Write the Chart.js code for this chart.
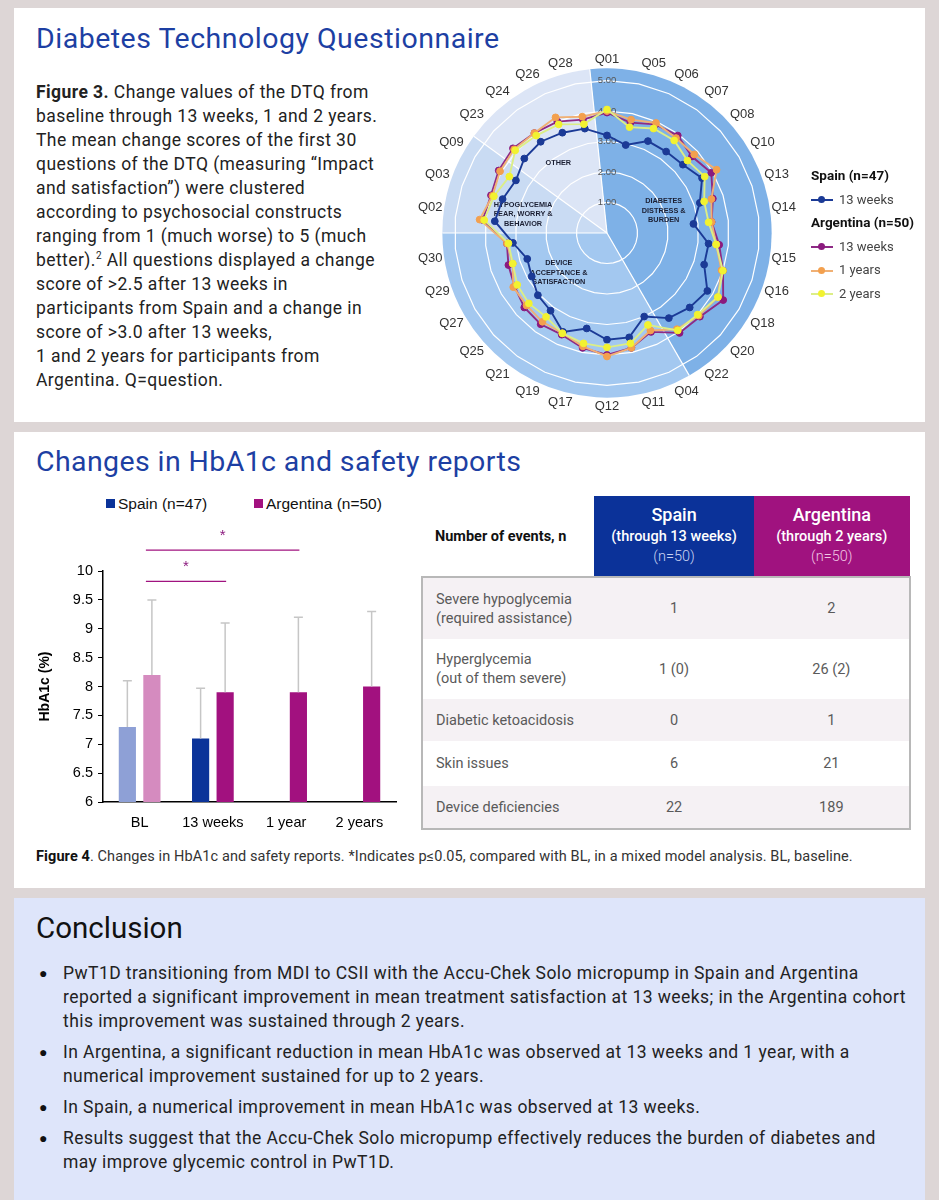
<!DOCTYPE html>
<html>
<head>
<meta charset="utf-8">
<script src="https://cdn.jsdelivr.net/npm/chart.js@4.4.1/dist/chart.umd.min.js"></script>
<style>
  html, body { margin:0; padding:0; }
  body { width:939px; height:1200px; background:#ddd6d6; position:relative; overflow:hidden; font-family:Roboto, "Liberation Sans", sans-serif; color:#222; }
  .panel { position:absolute; left:14px; width:911px; background:#fff; }
  .abs { position:absolute; }
  .title { font-size:28.5px; letter-spacing:0.5px; color:#1d3fa3; white-space:nowrap; }
  .fig3 { font-size:17.5px; letter-spacing:0.43px; line-height:24px; color:#222; white-space:nowrap; }
  .rleg { font-size:13px; color:#444; white-space:nowrap; }
  .rleg b { color:#111; font-size:13.5px; }
  .mk { display:inline-block; position:relative; width:22px; height:10px; vertical-align:middle; margin-right:6px; }
  .mk i { position:absolute; left:0; right:0; top:4px; height:2px; }
  .mk s { position:absolute; left:7px; top:1px; width:7px; height:7px; border-radius:50%; }
  .bleg { font-size:15.5px; color:#111; font-family:"Liberation Sans", Arial, sans-serif; white-space:nowrap; }
  .sq { display:inline-block; width:9px; height:9px; margin-right:3px; vertical-align:1px; }
  table.ev { border-collapse:collapse; font-size:14.5px; color:#5a5a5a; }
  table.ev td, table.ev th { padding:0; }
  table.ev th { color:#fff; font-weight:500; text-align:center; }
  .concl { font-size:17.5px; letter-spacing:0.43px; line-height:24px; color:#222; white-space:nowrap; list-style:none; }
  .concl li { margin-bottom:7px; position:relative; }
  .concl li::before { content:"●"; position:absolute; left:-24px; top:0; font-size:14px; color:#111; }
</style>
</head>
<body>

<div class="panel" style="top:8px;height:414px;"></div>
<div class="panel" style="top:432px;height:456px;"></div>
<div class="panel" style="top:898px;height:310px;background:#dee5fa;"></div>

<div class="abs title" style="left:36px;top:22px;">Diabetes Technology Questionnaire</div>
<div class="abs fig3" style="left:36px;top:80px;">
<b>Figure 3.</b> Change values of the DTQ from<br>
baseline through 13 weeks, 1 and 2 years.<br>
The mean change scores of the first 30<br>
questions of the DTQ (measuring “Impact<br>
and satisfaction”) were clustered<br>
according to psychosocial constructs<br>
ranging from 1 (much worse) to 5 (much<br>
better).<sup style="font-size:10px;line-height:0">2</sup> All questions displayed a change<br>
score of &gt;2.5 after 13 weeks in<br>
participants from Spain and a change in<br>
score of &gt;3.0 after 13 weeks,<br>
1 and 2 years for participants from<br>
Argentina. Q=question.
</div>

<canvas id="radarChart" class="abs" width="430" height="362" style="left:392px;top:53px;"></canvas>

<div class="abs rleg" style="left:811px;top:164px;line-height:23.5px;">
  <b>Spain (n=47)</b><br>
  <span class="mk"><i style="background:#1b3a96"></i><s style="background:#1b3a96"></s></span>13 weeks<br>
  <b>Argentina (n=50)</b><br>
  <span class="mk"><i style="background:#8e2a85"></i><s style="background:#8b1a7e"></s></span>13 weeks<br>
  <span class="mk"><i style="background:#f0b074"></i><s style="background:#f3a04e"></s></span>1 years<br>
  <span class="mk"><i style="background:#dcee86"></i><s style="background:#f2f230"></s></span>2 years
</div>

<div class="abs title" style="left:36px;top:445px;letter-spacing:0.4px;">Changes in HbA1c and safety reports</div>

<div class="abs bleg" style="left:106px;top:495px;"><span class="sq" style="background:#0b3399"></span>Spain (n=47)</div>
<div class="abs bleg" style="left:254px;top:495px;"><span class="sq" style="background:#a2117f"></span>Argentina (n=50)</div>

<canvas id="hba1cChart" class="abs" width="390" height="345" style="left:20px;top:490px;"></canvas>

<table class="ev abs" style="left:421px;top:496px;width:490px;">
  <colgroup><col style="width:173px"><col style="width:160px"><col style="width:157px"></colgroup>
  <tr style="height:81px;">
    <td style="color:#111;font-weight:700;font-size:14.5px;padding-left:13px;">Number of events, n</td>
    <th style="background:#0b3299;line-height:20px;"><span style="font-size:18px">Spain</span><br>(through 13 weeks)<br><span style="font-weight:300;color:#c9d2f2">(n=50)</span></th>
    <th style="background:#a0127f;line-height:20px;"><span style="font-size:18px">Argentina</span><br>(through 2 years)<br><span style="font-weight:300;color:#f0c6e4">(n=50)</span></th>
  </tr>
  <tbody id="evBody"></tbody>
</table>

<div class="abs" style="left:36px;top:848px;font-size:14.5px;letter-spacing:0.1px;color:#333;white-space:nowrap;"><b style="color:#111">Figure 4</b>. Changes in HbA1c and safety reports. *Indicates p≤0.05, compared with BL, in a mixed model analysis. BL, baseline.</div>

<div class="abs" style="left:36px;top:911px;font-size:29.5px;color:#111;">Conclusion</div>
<ul class="abs concl" style="left:63px;top:961px;margin:0;padding:0;">
  <li>PwT1D transitioning from MDI to CSII with the Accu-Chek Solo micropump in Spain and Argentina<br>reported a significant improvement in mean treatment satisfaction at 13 weeks; in the Argentina cohort<br>this improvement was sustained through 2 years.</li>
  <li>In Argentina, a significant reduction in mean HbA1c was observed at 13 weeks and 1 year, with a<br>numerical improvement sustained for up to 2 years.</li>
  <li>In Spain, a numerical improvement in mean HbA1c was observed at 13 weeks.</li>
  <li>Results suggest that the Accu-Chek Solo micropump effectively reduces the burden of diabetes and<br>may improve glycemic control in PwT1D.</li>
</ul>

<script>
// ---- DTQ radar data ----
const questions = ["Q01","Q05","Q06","Q07","Q08","Q10","Q13","Q14","Q15","Q16","Q18","Q20","Q22","Q04","Q11",
                   "Q12","Q17","Q19","Q21","Q25","Q27","Q29","Q30","Q02","Q03","Q09","Q23","Q24","Q26","Q28"];
const spain13w = [3.2,2.95,3.3,3.3,3.35,3.6,3.2,2.85,3.35,3.35,3.8,3.65,3.45,3.0,3.5,
                  3.5,3.2,3.55,3.15,3.05,2.85,2.75,3.1,3.7,3.6,3.45,3.65,3.7,3.6,3.5];
const arg13w   = [3.95,3.7,3.9,3.95,3.75,3.95,3.65,3.45,3.7,4.0,4.4,4.1,4.05,3.55,3.85,
                  4.0,3.85,3.65,3.7,3.65,3.5,3.4,3.3,4.1,4.0,4.1,4.15,4.05,4.0,3.8];
const arg1y    = [4.0,3.8,3.95,3.85,3.85,4.15,3.6,3.45,3.6,3.95,4.2,4.05,3.9,3.5,3.85,
                  4.05,3.8,3.6,3.6,3.55,3.55,3.25,3.3,4.2,3.95,4.05,4.1,4.05,4.15,3.9];
const arg2y    = [4.05,3.55,3.75,3.75,3.55,3.7,3.35,3.35,3.6,4.0,4.2,4.0,3.95,3.3,3.7,
                  3.75,3.7,3.6,3.4,3.45,3.4,3.25,3.25,4.05,3.9,3.7,4.05,3.95,3.9,3.65];
const radarTicks = [1, 2, 3, 4, 5];

// psychosocial constructs: first and last question index of each sector
const constructNames = [["DIABETES","DISTRESS &","BURDEN"], ["DEVICE","ACCEPTANCE &","SATISFACTION"],
                        ["HYPOGLYCEMIA","FEAR, WORRY &","BEHAVIOR"], ["OTHER"]];
const constructFrom = [0, 13, 23, 26];
const constructTo   = [12, 22, 25, 29];

// ---- HbA1c data ----
const timepoints = ["BL", "13 weeks", "1 year", "2 years"];
const spainHbA1c = [7.3, 7.1, null, null];
const spainUpper = [8.1, 7.97, null, null];
const argHbA1c   = [8.2, 7.9, 7.9, 8.0];
const argUpper   = [9.5, 9.1, 9.2, 9.3];
const sigPairs   = [[0, 1], [0, 2]];

// ---- safety table ----
const eventNames = [["Severe hypoglycemia","(required assistance)"], ["Hyperglycemia","(out of them severe)"],
                    ["Diabetic ketoacidosis"], ["Skin issues"], ["Device deficiencies"]];
const spainEvents = ["1", "1 (0)", "0", "6", "22"];
const argEvents   = ["2", "26 (2)", "1", "21", "189"];

const rowH = [62, 60, 42, 45, 43];
const tb = document.getElementById("evBody");
eventNames.forEach((n, i) => {
  const bg = i % 2 === 0 ? "#f5f1f4" : "#fff";
  const last = i === eventNames.length - 1 ? "border-bottom:2px solid #b8b8b8;" : "";
  const first = i === 0 ? "border-top:2px solid #b8b8b8;" : "";
  tb.innerHTML += `<tr style="height:${rowH[i]}px;background:${bg};">
    <td style="padding-left:13px;line-height:19px;border-left:2px solid #b8b8b8;${first}${last}">${n.join("<br>")}</td>
    <td style="text-align:center;${first}${last}">${spainEvents[i]}</td>
    <td style="text-align:center;border-right:2px solid #b8b8b8;${first}${last}">${argEvents[i]}</td></tr>`;
});

// ---- radar chart ----
const sectorColors = ["#7eb1e7", "#a3c8f0", "#c9dbf3", "#dce5f6"];
const sectorLabelPos = [[5.7, 2.0], [19.2, 2.05], [23.55, 2.82], [27.1, 2.8]]; // [index, radius] for text

const sectorPlugin = {
  id: "sectors",
  beforeDraw(chart) {
    const s = chart.scales.r, ctx = chart.ctx;
    const step = Math.PI * 2 / chart.data.labels.length;
    const R = s.getDistanceFromCenterForValue(s.max);
    ctx.save();
    constructFrom.forEach((f, k) => {
      ctx.beginPath();
      ctx.moveTo(s.xCenter, s.yCenter);
      ctx.arc(s.xCenter, s.yCenter, R, (f - 0.5) * step - Math.PI / 2, (constructTo[k] + 0.5) * step - Math.PI / 2);
      ctx.closePath();
      ctx.fillStyle = sectorColors[k];
      ctx.fill();
    });
    ctx.strokeStyle = "#fff";
    ctx.lineWidth = 1.2;
    constructFrom.forEach(f => {
      const a = (f - 0.5) * step - Math.PI / 2;
      ctx.beginPath();
      ctx.moveTo(s.xCenter, s.yCenter);
      ctx.lineTo(s.xCenter + R * Math.cos(a), s.yCenter + R * Math.sin(a));
      ctx.stroke();
    });
    ctx.restore();
  },
  beforeDatasetsDraw(chart) {
    const s = chart.scales.r, ctx = chart.ctx;
    const step = Math.PI * 2 / chart.data.labels.length;
    ctx.save();
    ctx.font = "bold 7.3px 'Liberation Sans', Arial, sans-serif";
    ctx.fillStyle = "#1b1f33";
    ctx.textAlign = "center";
    ctx.textBaseline = "middle";
    constructNames.forEach((lines, k) => {
      const a = sectorLabelPos[k][0] * step - Math.PI / 2;
      const d = s.getDistanceFromCenterForValue(sectorLabelPos[k][1]);
      const x = s.xCenter + d * Math.cos(a), y = s.yCenter + d * Math.sin(a);
      lines.forEach((t, j) => ctx.fillText(t, x, y + (j - (lines.length - 1) / 2) * 9.5));
    });
    ctx.restore();
  }
};

const radarSeries = [
  { label: "Spain 13 weeks", data: spain13w, line: "#1b3a96", dot: "#1b3a96", order: 4 },
  { label: "Argentina 13 weeks", data: arg13w, line: "#8e2a85", dot: "#8b1a7e", order: 3 },
  { label: "Argentina 1 years", data: arg1y, line: "#f0b074", dot: "#f3a04e", order: 2 },
  { label: "Argentina 2 years", data: arg2y, line: "#dcee86", dot: "#f2f230", order: 1 }
];

new Chart(document.getElementById("radarChart").getContext("2d"), {
  type: "radar",
  data: {
    labels: questions,
    datasets: radarSeries.map(d => ({
      label: d.label, data: d.data, order: d.order, fill: false,
      borderColor: d.line, borderWidth: 1.9,
      pointBackgroundColor: d.dot, pointBorderColor: d.dot, pointRadius: 3.4, pointBorderWidth: 1
    }))
  },
  options: {
    responsive: false, animation: false,
    plugins: { legend: { display: false }, tooltip: { enabled: false } },
    elements: { line: { tension: 0 } },
    scales: {
      r: {
        min: 0, max: 5.4,
        afterBuildTicks: s => { s.ticks = [0].concat(radarTicks, [5.4]).map(v => ({ value: v })); },
        ticks: {
          showLabelBackdrop: false, color: "#555", font: { size: 9.5, family: "'Liberation Sans', Arial" },
          callback: v => radarTicks.includes(v) ? v.toFixed(2) : ""
        },
        grid: { color: c => radarTicks.includes(c.tick.value) ? "#ffffff" : "rgba(0,0,0,0)", lineWidth: 1.2 },
        angleLines: { display: false },
        pointLabels: { font: { size: 13, family: "'Liberation Sans', Arial" }, color: "#333", padding: -6 }
      }
    }
  },
  plugins: [sectorPlugin]
});

// ---- HbA1c bar chart ----
const errorBarPlugin = {
  id: "errorBars",
  afterDatasetsDraw(chart) {
    const ctx = chart.ctx, y = chart.scales.y;
    const uppers = [spainUpper, argUpper];
    ctx.save();
    ctx.strokeStyle = "#c6c6c6";
    ctx.lineWidth = 1.5;
    chart.data.datasets.forEach((ds, i) => {
      chart.getDatasetMeta(i).data.forEach((bar, j) => {
        if (ds.data[j] == null || uppers[i][j] == null) return;
        const yt = y.getPixelForValue(uppers[i][j]);
        ctx.beginPath();
        ctx.moveTo(bar.x, bar.y); ctx.lineTo(bar.x, yt);
        ctx.moveTo(bar.x - 4.5, yt); ctx.lineTo(bar.x + 4.5, yt);
        ctx.stroke();
      });
    });
    ctx.restore();
  }
};

const sigLevels = [9.82, 10.36];
const sigPlugin = {
  id: "sig",
  afterDraw(chart) {
    const ctx = chart.ctx, y = chart.scales.y, bars = chart.getDatasetMeta(1).data;
    ctx.save();
    ctx.strokeStyle = "#a0127f";
    ctx.fillStyle = "#8b1a7e";
    ctx.lineWidth = 1.2;
    ctx.font = "15px 'Liberation Sans', Arial";
    ctx.textAlign = "center";
    sigPairs.forEach((p, k) => {
      const x0 = bars[p[0]].x - 6, x1 = bars[p[1]].x + 1, yy = y.getPixelForValue(sigLevels[k]);
      ctx.beginPath(); ctx.moveTo(x0, yy); ctx.lineTo(x1, yy); ctx.stroke();
      ctx.fillText("*", (x0 + x1) / 2, yy - 10);
    });
    ctx.restore();
  }
};

const barFont = { size: 14.5, family: "'Liberation Sans', Arial" };
new Chart(document.getElementById("hba1cChart").getContext("2d"), {
  type: "bar",
  data: {
    labels: timepoints,
    datasets: [
      { label: "Spain (n=47)", data: spainHbA1c, backgroundColor: c => c.dataIndex === 0 ? "#8ea0d6" : "#0b3399" },
      { label: "Argentina (n=50)", data: argHbA1c, backgroundColor: c => c.dataIndex === 0 ? "#d58bbf" : "#a2117f" }
    ]
  },
  options: {
    responsive: false, animation: false,
    layout: { padding: { top: 81, right: 14 } },
    datasets: { bar: { categoryPercentage: 0.67, barPercentage: 0.7 } },
    plugins: { legend: { display: false }, tooltip: { enabled: false } },
    scales: {
      x: {
        grid: { display: false }, border: { color: "#000", width: 1.5 },
        ticks: { color: "#000", font: barFont, padding: 4 },
        afterFit: s => { s.height = 33; }
      },
      y: {
        min: 6, max: 10,
        ticks: { stepSize: 0.5, color: "#000", font: barFont, padding: 5, callback: v => String(v) },
        grid: { drawOnChartArea: false, tickLength: 5, color: "#000" },
        border: { color: "#000", width: 1.5 },
        title: { display: true, text: "HbA1c (%)", color: "#000", font: { size: 14, weight: "bold", family: "'Liberation Sans', Arial" }, padding: { top: 17, bottom: 0 } },
        afterFit: s => { s.width = 83; }
      }
    }
  },
  plugins: [errorBarPlugin, sigPlugin]
});
</script>
</body>
</html>
